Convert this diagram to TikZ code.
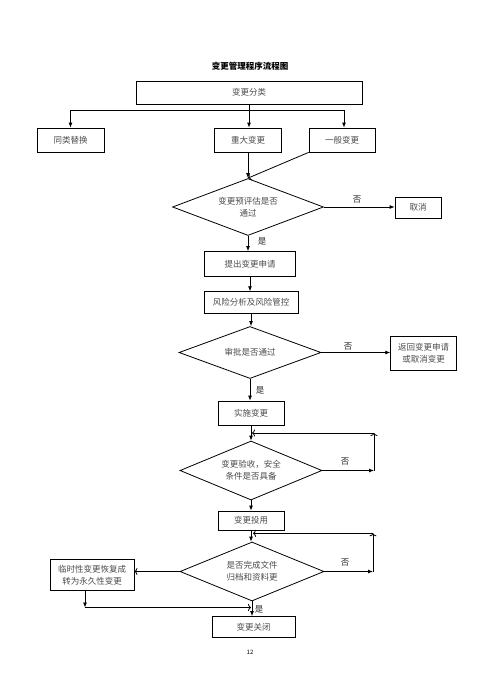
\documentclass[tikz,border=0pt]{standalone}
\usepackage{fontspec}
\setmainfont{Noto Sans CJK SC}
\usepackage{tikz}
\usetikzlibrary{shapes.geometric,arrows.meta}

\begin{document}
\begin{tikzpicture}[x=1pt,y=-1pt,line width=0.8pt,font=\fontsize{8.5}{12}\selectfont]
            \tikzstyle{box}=[rectangle,draw=black,fill=white,text=black!70,inner sep=1pt,align=center]
            \tikzstyle{test}=[diamond,draw=black,fill=white,text=black!70,inner sep=0pt,align=center,aspect=2.5]
            \tikzstyle{tag}=[inner sep=1pt,text=black!85]
            \tikzstyle{fillarr}=[-{Latex[length=5pt,width=4pt]}]
            \tikzstyle{openarr}=[-{To[length=3pt,width=7pt]}]
            \useasboundingbox (0,0) rectangle (500,693);

                    \node[font=\fontsize{8.5}{12}\selectfont\bfseries] (T-0) at (250, 66){变更管理程序流程图};

                    \node[box,minimum width=226pt,minimum height=23pt] (B-0) at (249, 92.5){变更分类};
                    \node[box,minimum width=67pt,minimum height=24pt] (B-1) at (70.5, 140){同类替换};
                    \node[box,minimum width=67pt,minimum height=24pt] (B-2) at (248, 140){重大变更};
                    \node[box,minimum width=66pt,minimum height=24pt] (B-3) at (342, 140){一般变更};

                    \node[test,minimum width=151pt,minimum height=57pt] (D-0) at (248, 207){变更预评估是否\\通过};
                    \node[box,minimum width=46pt,minimum height=21pt] (B-4) at (418, 207.5){取消};

                    \node[box,minimum width=91pt,minimum height=25pt] (B-5) at (250, 264){提出变更申请};
                    \node[box,minimum width=94pt,minimum height=21.6pt] (B-6) at (251, 302.5){风险分析及风险管控};

                    \node[test,minimum width=142pt,minimum height=52pt] (D-1) at (250, 352.5){审批是否通过};
                    \node[box,minimum width=66pt,minimum height=34pt] (B-7) at (423.7, 353.7){返回变更申请\\或取消变更};

                    \node[box,minimum width=66pt,minimum height=24pt] (B-8) at (251, 413){实施变更};
                    \node[test,minimum width=142pt,minimum height=59pt] (D-2) at (251, 470.5){变更验收，安全\\条件是否具备};
                    \node[box,minimum width=66pt,minimum height=19pt] (B-9) at (251, 520.5){变更投用};
                    \node[test,minimum width=144pt,minimum height=59pt] (D-3) at (252, 571.5){是否完成文件\\归档和资料更};
                    \node[box,minimum width=84pt,minimum height=31.7pt] (B-10) at (92, 575){临时性变更恢复成\\转为永久性变更};
                    \node[box,minimum width=83pt,minimum height=21pt] (B-11) at (253.5, 627){变更关闭};

                    \node[tag] (N-0) at (357, 200){否};
                    \node[tag] (N-1) at (262, 241){是};
                    \node[tag] (N-2) at (348, 347){否};
                    \node[tag] (N-3) at (260, 390){是};
                    \node[tag] (N-4) at (345, 462){否};
                    \node[tag] (N-5) at (345, 563){否};
                    \node[tag] (N-6) at (259, 609){是};

                    \node[font=\fontsize{6}{7}\selectfont] (P-0) at (250, 652){12};

                    \coordinate (C-0) at (249, 110);
                    \coordinate (C-1) at (70.5, 110);
                    \coordinate (C-2) at (344, 110);
                    \coordinate (L-0) at (374, 433);
                    \coordinate (J-0) at (252, 433);
                    \coordinate (L-1) at (373, 533.3);
                    \coordinate (J-1) at (253, 533.3);
                    \coordinate (K-0) at (85, 607.5);
                    \coordinate (J-2) at (251, 607.5);

                \draw (B-0.south) -- (C-0);
                \draw (C-1) -- (C-2);
                \foreach \from/\to in {C-1/B-1, C-0/B-2, C-2/B-3}
                    \draw[fillarr] (\from) -- (\from |- \to.north);
                \draw[openarr] (B-3.south west) -- (D-0.north);

                \foreach \from/\to in {B-2/D-0, D-0/B-5, B-5/B-6, B-6/D-1, D-1/B-8, B-8/D-2, D-2/B-9, B-9/D-3, D-3/B-11}
                    \draw[fillarr] (\from.south) -- (\from.south |- \to.north);

                \foreach \from/\to in {D-0/B-4, D-1/B-7}
                    \draw[fillarr] (\from.east) -- (\from.east -| \to.west);
                \draw[openarr] (D-3.west) -- (D-3.west -| B-10.east);

                % loops back to the column
                \draw[fillarr] (D-2.east) -- (D-2.east -| L-0);
                \draw[openarr] (D-2.east -| L-0) -- (L-0);
                \draw[openarr] (L-0) -- (J-0);
                \draw[fillarr] (D-3.east) -- (D-3.east -| L-1);
                \draw[openarr] (D-3.east -| L-1) -- (L-1);
                \draw[openarr] (L-1) -- (J-1);

                \draw[fillarr] (K-0 |- B-10.south) -- (K-0);
                \draw[openarr] (K-0) -- (J-2);
        \end{tikzpicture}
\end{document}
